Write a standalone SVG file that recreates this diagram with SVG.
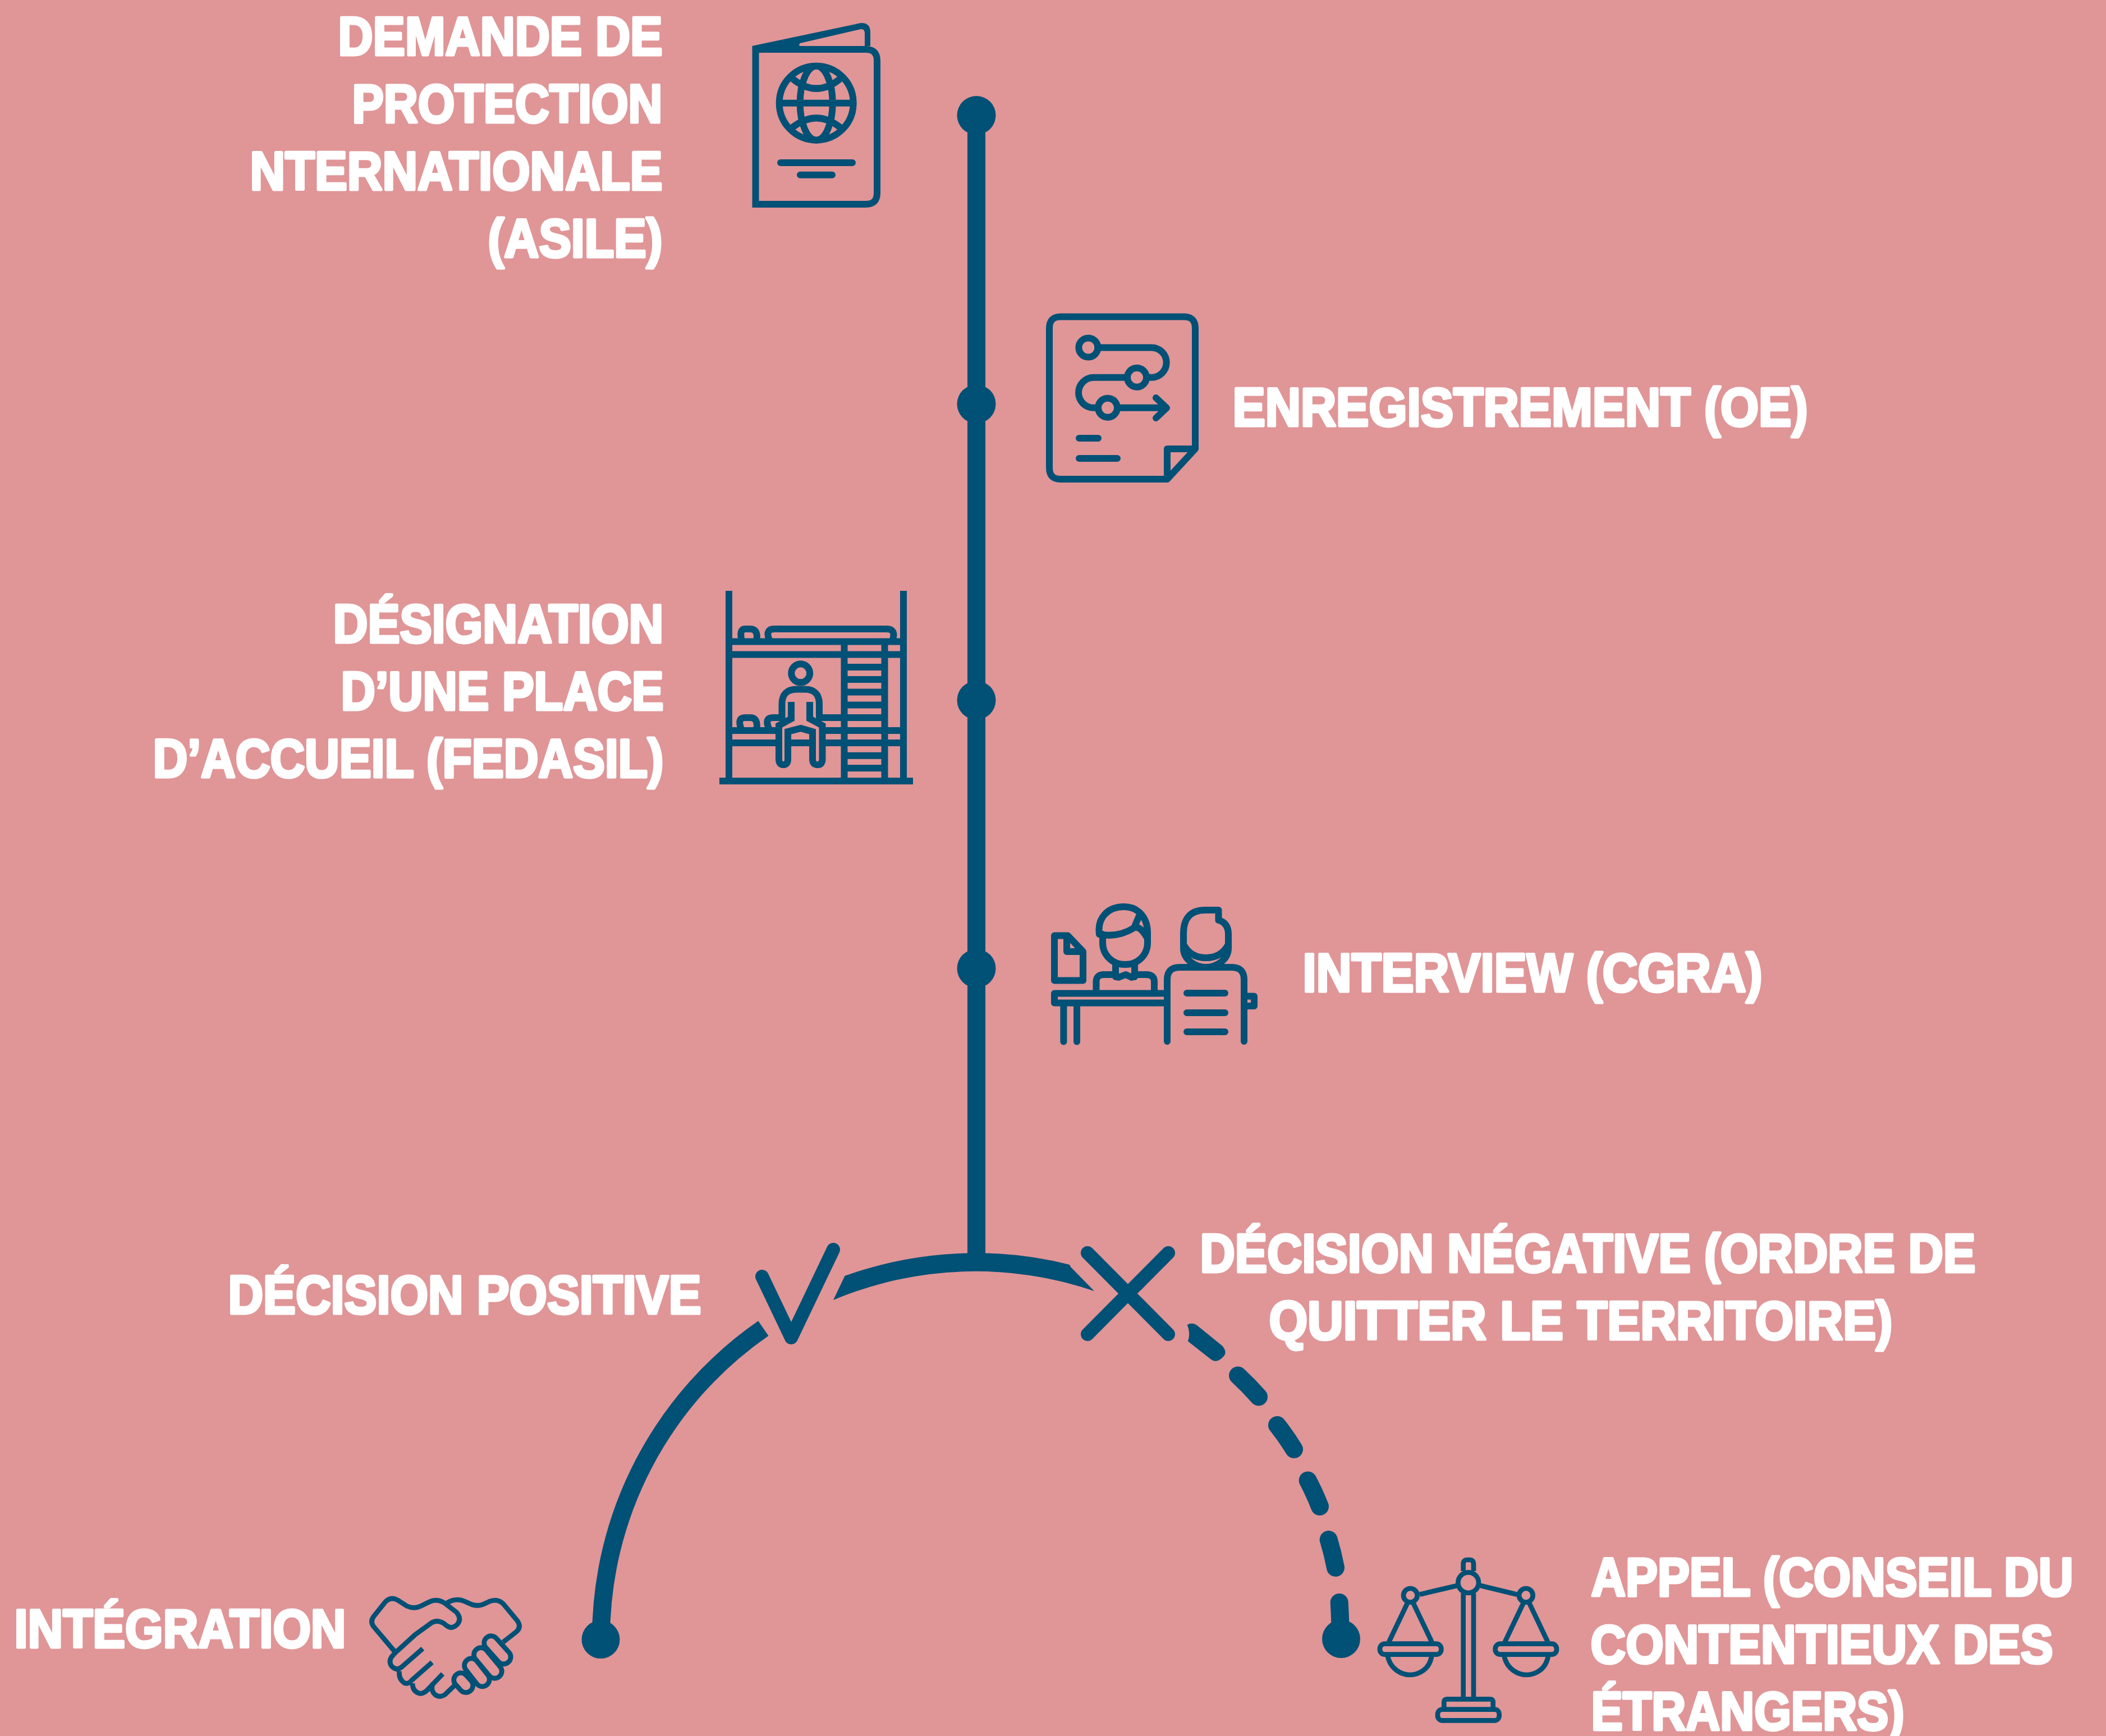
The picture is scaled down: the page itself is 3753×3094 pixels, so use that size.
<svg xmlns="http://www.w3.org/2000/svg" width="3753" height="3094" viewBox="0 0 3753 3094">
<style>
.bl{font-family:"Liberation Sans",Arial,sans-serif;font-weight:700;font-size:96px;fill:#fff;stroke:#fff;stroke-width:5;stroke-linejoin:round}
.i{fill:none;stroke:#015075;stroke-width:12;stroke-linecap:round;stroke-linejoin:round}
.b{fill:none;stroke:#015075;stroke-width:12;stroke-linecap:butt;stroke-linejoin:miter}
.h{fill:none;stroke:#015075;stroke-width:26;stroke-linecap:butt;stroke-linejoin:round}
.c{fill:none;stroke:#015075;stroke-width:32;stroke-linecap:round}
.d{fill:#015075}
.m{fill:none;stroke:#015075;stroke-width:24;stroke-linecap:round;stroke-linejoin:round}
</style>
<rect width="3753" height="3094" fill="#E09597"/>
<g id="connectors">
<rect class="d" x="1724" y="205" width="32" height="2040"/>
<circle class="d" cx="1740" cy="205.500" r="34.500"/>
<circle class="d" cx="1740" cy="720" r="34.500"/>
<circle class="d" cx="1740" cy="1248" r="34.500"/>
<circle class="d" cx="1740" cy="1726" r="34.500"/>
<path class="d" d="M1505.500 2274A687 687 0 0 1 1906 2254L1908 2258L1950 2301A654 654 0 0 0 1485 2317Z"/>
<path d="M1360.300 2367.500A671 671 0 0 0 1071 2922" fill="none" stroke="#015075" stroke-width="32"/>
<circle class="d" cx="1070.500" cy="2922" r="34"/>
<path class="d" d="M2115.700 2361Q2125 2356 2133 2362L2178 2398.500Q2188 2410 2180 2418Q2168 2431 2157 2422L2117 2390.600Q2122 2376 2115.700 2361Z"/>
<path class="c" d="M2206 2451.500Q2226 2470 2243 2489.500"/>
<path class="c" d="M2276 2540Q2292 2560 2306 2583"/>
<path class="c" d="M2330.700 2638.500Q2342 2660 2352 2685"/>
<path class="c" d="M2367.700 2744Q2375 2768 2380 2794"/>
<path class="c" d="M2386.700 2856Q2388 2878 2389 2915"/>
<circle class="d" cx="2390" cy="2921" r="34"/>
</g>
<g id="node-demande">
<text class="bl" x="602.500" y="97.500" textLength="578" lengthAdjust="spacingAndGlyphs">DEMANDE DE</text>
<text class="bl" x="627.500" y="217.500" textLength="553" lengthAdjust="spacingAndGlyphs">PROTECTION</text>
<text class="bl" x="445.500" y="337.500" textLength="735" lengthAdjust="spacingAndGlyphs">NTERNATIONALE</text>
<text class="bl" x="869.500" y="457.500" textLength="311" lengthAdjust="spacingAndGlyphs">(ASILE)</text>
<path class="d" d="M1340 82L1534 41Q1551 40 1551 58V82H1541V60Q1541 51 1534 52L1426 77Q1422 81 1426 82H1340Z"/>
<path class="b" d="M1346.500 88H1543Q1563 88 1563 108V344Q1563 364 1543 364H1346.500Z"/>
<g class="i">
<circle cx="1454.700" cy="183.700" r="66"/>
<ellipse cx="1454.700" cy="183.700" rx="29" ry="66"/>
<path d="M1389 183.700H1520M1412.600 140.600Q1455 175 1497 140.600M1412.600 226.800Q1455 194 1497 226.800M1391 290H1519M1426 311.700H1483"/>
</g>
</g>
<g id="node-enregistrement">
<text class="bl" x="2196.500" y="758.500" textLength="1025" lengthAdjust="spacingAndGlyphs">ENREGISTREMENT (OE)</text>
<g class="i">
<path d="M2080 854H1890Q1870 854 1870 834V585Q1870 564.500 1890 564.500H2110Q2130 564.500 2130 585V800L2080 854V800H2130"/>
<circle cx="1939.400" cy="619.400" r="17"/>
<circle cx="2026" cy="672.800" r="17"/>
<circle cx="1974" cy="726.800" r="17"/>
<path d="M1956 619.400H2052A26.700 26.700 0 0 1 2052 672.800H2043M2009 672.800H1949A27 27 0 0 0 1949 726.800H1957M1991 726.800H2078M2060 709L2079 727L2060 745M1923 781H1957M1923 817H1991"/>
</g>
</g>
<g id="node-designation">
<text class="bl" x="593.500" y="1144.500" textLength="589" lengthAdjust="spacingAndGlyphs">DÉSIGNATION</text>
<text class="bl" x="607.500" y="1264.500" textLength="575" lengthAdjust="spacingAndGlyphs">D’UNE PLACE</text>
<text class="bl" x="272.500" y="1384.500" textLength="910" lengthAdjust="spacingAndGlyphs">D’ACCUEIL (FEDASIL)</text>
<g class="b">
<path d="M1299 1053V1392M1610 1053V1392M1282 1392H1627"/>
<path d="M1299 1143.500H1610M1299 1166.500H1610M1504.500 1143V1392M1576.500 1143V1392"/>
<path d="M1504.500 1188.900H1576.500M1504.500 1211H1576.500M1504.500 1233.600H1576.500M1504.500 1256.600H1576.500M1504.500 1279H1576.500M1504.500 1302H1576.500M1504.500 1324H1576.500M1504.500 1346.700H1576.500M1504.500 1369H1576.500"/>
<path d="M1299 1302H1388M1299 1324H1388M1465 1302H1610M1465 1324H1610M1404 1324H1448M1460 1279H1504"/>
<path d="M1322 1143Q1316.500 1121 1328 1121H1337Q1352 1121 1348 1143M1372 1143Q1362 1121 1380 1121H1580Q1598 1121 1590 1143"/>
<path d="M1322 1302Q1312 1279 1328 1279H1337Q1352 1279 1348 1302M1372 1302Q1360 1279 1378 1279H1395"/>
<circle cx="1426.700" cy="1199.800" r="16.500"/>
<path d="M1393.500 1285V1255Q1393.500 1228.500 1420 1228.500H1434Q1460 1228.500 1460 1255V1285"/>
<path d="M1410 1251V1281L1388 1293V1353Q1388 1363 1396 1363Q1404 1363 1404 1353V1304L1427 1298L1448 1304V1353Q1448 1363 1457 1363Q1465.500 1363 1465.500 1353V1293L1443 1281V1251"/>
</g>
</g>
<g id="node-interview">
<text class="bl" x="2321.500" y="1766.500" textLength="819" lengthAdjust="spacingAndGlyphs">INTERVIEW (CGRA)</text>
<g class="i">
<path d="M1959 1665C1955 1635 1975 1616 2003 1616C2028 1616 2045 1635 2045 1663V1680C2045 1702 2028 1719 2005 1719C1982 1719 1965 1702 1965 1680V1665"/>
<path d="M1959 1665Q1992 1672 2022 1653Q2032 1650 2044 1671M2022 1651L2031 1630"/>
<path d="M1988 1718V1741M2022 1718V1741"/>
<path d="M1953.500 1768V1750Q1953.500 1737 1967 1737H1985L1993 1742L2006 1737L2017 1742L2023 1737H2043Q2057 1737 2057 1750V1768"/>
<path d="M2075 1770.400H1879V1787.600H2075M1895.400 1787.600V1856.500M1919 1787.600V1856.500"/>
<path d="M1879 1667.600H1903L1930 1696V1747.400H1879ZM1901 1668V1696H1930"/>
<path d="M2080 1856V1746Q2080 1724 2102 1724H2195Q2217 1724 2217 1746V1856"/>
<path d="M2115 1770H2183M2115 1805H2183M2115 1839H2183M2217 1775.500H2235V1793H2217"/>
<path d="M2109 1683V1664Q2109 1622 2148 1622H2171.500V1640Q2189 1645 2189 1665V1683Q2177 1707 2149 1707Q2121 1707 2109 1683ZM2109 1683V1690C2109 1710 2130 1724 2149 1724C2168 1724 2189 1710 2189 1690V1683"/>
</g>
</g>
<g id="node-positive">
<text class="bl" x="406.500" y="2340.500" textLength="843" lengthAdjust="spacingAndGlyphs">DÉCISION POSITIVE</text>
<path class="m" d="M1358 2275L1410 2384L1485 2227"/>
</g>
<g id="node-negative">
<text class="bl" x="2138.500" y="2266.500" textLength="1382" lengthAdjust="spacingAndGlyphs">DÉCISION NÉGATIVE (ORDRE DE</text>
<text class="bl" x="2261.500" y="2386.500" textLength="1111" lengthAdjust="spacingAndGlyphs">QUITTER LE TERRITOIRE)</text>
<path class="m" d="M1938 2233L2082 2378M2082 2233L1938 2378"/>
</g>
<g id="node-integration">
<text class="bl" x="25.500" y="2935.500" textLength="591" lengthAdjust="spacingAndGlyphs">INTÉGRATION</text>
<g transform="translate(600 2700) scale(.33333)">
<g class="h">
<path d="M310 730L200 600Q175 570 200 540L260 465Q290 435 325 455L375 487Q415 505 450 487L495 465Q535 445 575 470L640 520Q670 555 645 585Q615 615 585 590L570 578Q535 558 505 578L420 640L310 740L295 757Q275 785 295 810Q320 835 345 815L460 715"/>
<path d="M335 835Q330 880 365 900Q385 905 400 885L510 788"/>
<path d="M405 900Q405 945 445 955Q470 955 490 930L567 850"/>
<path d="M515 900Q500 935 525 960Q550 980 580 960L630 912"/>
<path d="M590 470Q640 440 690 465L725 480Q760 490 790 475L815 463Q860 445 890 475L965 565Q990 600 960 625L890 680"/>
<rect x="772" y="685" width="175" height="75" rx="37" transform="rotate(48 860 722)"/>
<rect x="715" y="755" width="190" height="75" rx="37" transform="rotate(50 810 790)"/>
<rect x="665" y="805" width="170" height="75" rx="37" transform="rotate(52 750 842)"/>
<rect x="620" y="860" width="115" height="75" rx="37" transform="rotate(48 678 897)"/>
</g>
</g>
</g>
<g id="node-appel">
<text class="bl" x="2835.500" y="2843.500" textLength="859" lengthAdjust="spacingAndGlyphs">APPEL (CONSEIL DU</text>
<text class="bl" x="2834.500" y="2963.500" textLength="824" lengthAdjust="spacingAndGlyphs">CONTENTIEUX DES</text>
<text class="bl" x="2835.500" y="3082.500" textLength="558" lengthAdjust="spacingAndGlyphs">ÉTRANGERS)</text>
<g transform="translate(2400 2700) scale(.33333)">
<g class="h">
<path d="M623 300V262Q623 240 645 240H656Q678 240 678 262V300M623 420V980M678 420V980"/>
<circle cx="650" cy="362" r="55"/>
<path d="M590 378L390 425M715 378L910 425"/>
<circle cx="340" cy="430" r="37"/>
<circle cx="958" cy="430" r="37"/>
<path d="M325 470L225 680M355 470L455 680M945 470L845 680M975 470L1075 680"/>
<rect x="177" y="689" width="328" height="57" rx="26"/>
<rect x="794" y="689" width="328" height="57" rx="26"/>
<path d="M217 746C230 830 300 855 338 855C380 855 445 830 455 746M840 746C853 830 923 855 961 855C1003 855 1068 830 1078 746"/>
<path d="M520 1040V1000Q520 985 535 985H765Q782 985 782 1000V1040"/>
<rect x="486" y="1040" width="329" height="59" rx="25"/>
</g>
</g>
</g>
</svg>
